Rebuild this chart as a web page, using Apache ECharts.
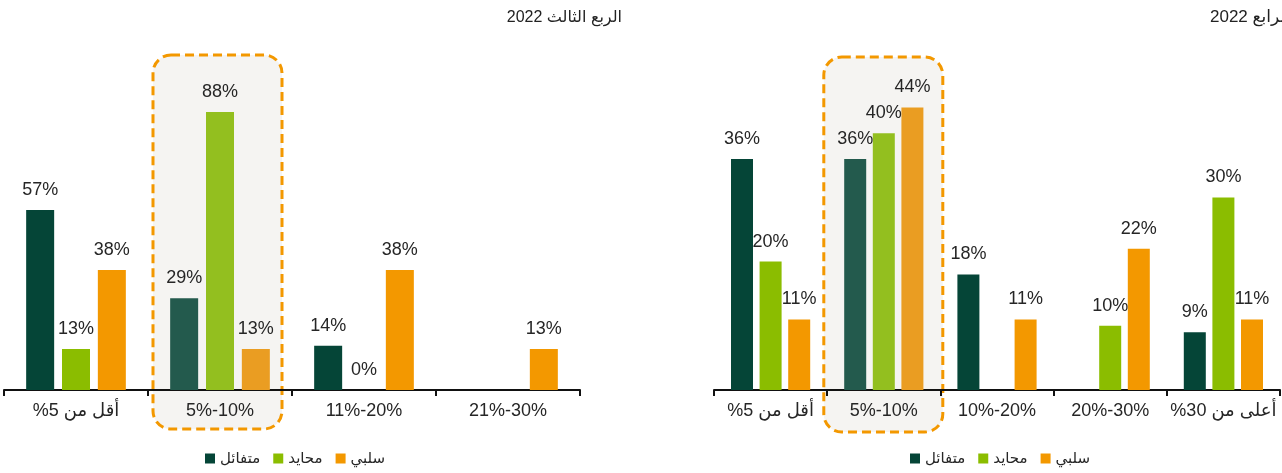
<!DOCTYPE html>
<html>
<head>
<meta charset='utf-8'>
<title>ECharts</title>
<script src='https://cdn.jsdelivr.net/npm/echarts@6/dist/echarts.min.js'></script>
<style>
  html, body { margin: 0; padding: 0; background: #fff; }
</style>
</head>
<body>
<div id='main' style='width: 1282px;height:473px;'></div>

<script type='text/javascript'>
// الربع الثالث 2022
var leftCats = ['أقل من 5%', '5%-10%', '11%-20%', '21%-30%'];
var leftOpt = [57, 29, 14, null];
var leftNeu = [13, 88, 0, null];
var leftNeg = [38, 13, 38, 13];

// الربع الرابع 2022
var rightCats = ['أقل من 5%', '5%-10%', '10%-20%', '20%-30%', 'أعلى من 30%'];
var rightOpt = [36, 36, 18, null, 9];
var rightNeu = [20, 40, null, 10, 30];
var rightNeg = [11, 44, 11, 22, 11];

var names = ['متفائل', 'محايد', 'سلبي'];
var colors = ['#054537', '#8bbd00', '#f39800'];
var hiColors = ['#235a4d', '#93bf1f', '#ea9d22'];
var hiIndex = 1; // 5%-10% is boxed in both charts

var font = "'Liberation Sans', Arial, 'DejaVu Sans', sans-serif";

// arabic labels need an rtl run so the % lands on the left like the original
function rtl(s) {
    return /[\u0600-\u06FF]/.test(s) ? '\u202B' + s + '\u202C' : s;
}

function mkData(vals, k) {
    return vals.map(function (v, i) {
        if (i === hiIndex && v != null) {
            return { value: v, itemStyle: { color: hiColors[k] } };
        }
        return v;
    });
}

function mkSeries(vals, k, idx, bw, gap) {
    return {
        name: names[k],
        type: 'bar',
        xAxisIndex: idx,
        yAxisIndex: idx,
        barWidth: bw,
        barGap: gap,
        data: mkData(vals, k),
        itemStyle: { color: colors[k] },
        label: {
            show: true,
            position: 'top',
            distance: 11,
            formatter: '{c}%',
            fontSize: 18,
            fontFamily: font,
            color: '#262626'
        },
        silent: true,
        animation: false
    };
}

function mkX(cats, idx) {
    return {
        type: 'category',
        gridIndex: idx,
        data: cats,
        axisLine: { lineStyle: { color: '#111', width: 2 } },
        axisTick: { show: true, length: 6, lineStyle: { color: '#111', width: 2 } },
        axisLabel: { fontSize: 18, fontFamily: font, color: '#262626', margin: 12, interval: 0,
                     formatter: rtl }
    };
}

var myChart = echarts.init(document.getElementById('main'));

var option = {
    animation: false,
    title: [
        { text: 'الربع الثالث 2022', right: 655, top: 5,
          textStyle: { fontSize: 16, fontWeight: 'normal', color: '#222', fontFamily: font } },
        // runs off the right edge in the original too
        { text: 'الربع الرابع 2022', left: 1205, top: 4,
          textStyle: { fontSize: 17, fontWeight: 'normal', color: '#222', fontFamily: font } }
    ],
    legend: [
        { data: names, left: 200, top: 446, itemWidth: 10, itemHeight: 10, itemGap: 13,
          icon: 'rect', textStyle: { fontSize: 15, fontFamily: font, color: '#262626' } },
        { data: names, left: 905, top: 446, itemWidth: 10, itemHeight: 10, itemGap: 13,
          icon: 'rect', textStyle: { fontSize: 15, fontFamily: font, color: '#262626' } }
    ],
    grid: [
        { left: 4, width: 576, top: 74, height: 316 },
        { left: 714, width: 566, top: 69, height: 321 }
    ],
    xAxis: [mkX(leftCats, 0), mkX(rightCats, 1)],
    yAxis: [
        { type: 'value', gridIndex: 0, min: 0, max: 100, show: false },
        { type: 'value', gridIndex: 1, min: 0, max: 50, show: false }
    ],
    series: [
        mkSeries(leftOpt, 0, 0, 28, '28%'),
        mkSeries(leftNeu, 1, 0, 28, '28%'),
        mkSeries(leftNeg, 2, 0, 28, '28%'),
        mkSeries(rightOpt, 0, 1, 22, '30%'),
        mkSeries(rightNeu, 1, 1, 22, '30%'),
        mkSeries(rightNeg, 2, 1, 22, '30%')
    ]
};

myChart.setOption(option);

// dashed highlight boxes around the 5%-10% band
var cl = myChart.convertToPixel({ xAxisIndex: 0 }, leftCats[hiIndex]);
var cr = myChart.convertToPixel({ xAxisIndex: 1 }, rightCats[hiIndex]);

function box(x0, x1, y0, y1) {
    return {
        type: 'rect',
        z: -10,
        shape: { x: x0, y: y0, width: x1 - x0, height: y1 - y0, r: 18 },
        style: { fill: '#f5f4f2', stroke: '#f39800', lineWidth: 3, lineDash: [9, 5] },
        silent: true
    };
}

myChart.setOption({
    graphic: [
        box(cl - 67, cl + 62, 55, 429),
        box(cr - 60, cr + 59, 57, 432)
    ]
});
</script>
</body>
</html>
